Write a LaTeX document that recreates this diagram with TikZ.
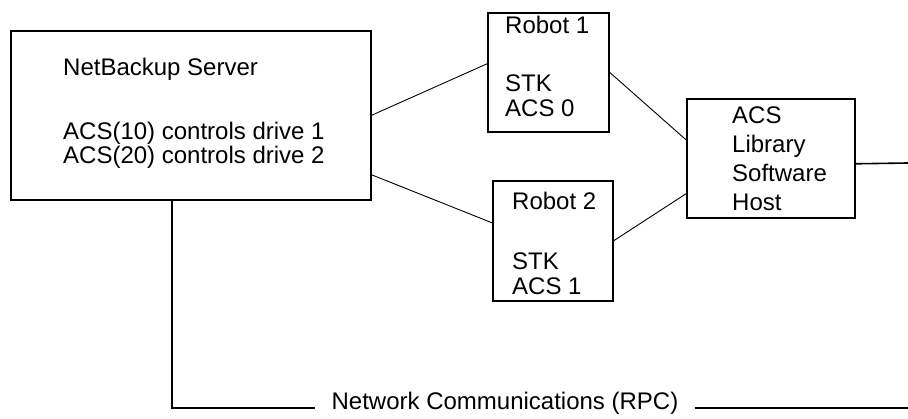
\documentclass[tikz,border=0pt]{standalone}
\usepackage{fontspec}
\setmainfont{Liberation Sans}
\tikzset{
  box/.style={draw, line width=1.6pt, anchor=north west, inner sep=0pt},
  txt/.style={align=left, anchor=north west, inner sep=0pt, font=\fontsize{24}{25}\selectfont},
  wire/.style={line width=0.9pt},
  bus/.style={line width=1.6pt}
}
\begin{document}
\begin{tikzpicture}[x=1pt,y=-1pt]
			\useasboundingbox (0,0) rectangle (908,419);
			\node[box, minimum width=360pt, minimum height=169pt] (srv) at (10,30) {};
			\node[box, minimum width=121pt, minimum height=119pt] (rob1) at (487,12) {};
			\node[box, minimum width=120pt, minimum height=120pt] (rob2) at (492,180) {};
			\node[box, minimum width=168pt, minimum height=119pt] (acs) at (686,98) {};
			
			\node[txt, font=\fontsize{24}{22}\selectfont] (srvtxt) at (63,58) {NetBackup Server\\[41pt]ACS(10) controls drive 1\\ACS(20) controls drive 2};
			\node[txt] (rob1txt) at (505,16) {Robot 1\\[33pt]STK\\ACS 0};
			\node[txt] (rob2txt) at (512,192) {Robot 2\\[35pt]STK\\ACS 1};
			\node[txt, font=\fontsize{24}{28.7}\selectfont] (acstxt) at (732,107) {ACS\\Library\\Software\\Host};
			
			\node[font=\fontsize{24}{26}\selectfont, inner xsep=16pt] (net) at (505,403) {Network Communications (RPC)};
			\coordinate (acsend) at (908,163);
			\coordinate (netend) at (908,408);
			
			\draw[wire] (srv.east) -- ([yshift=8.5pt]rob1.west);
			\draw[wire] ([yshift=-59.5pt]srv.east) -- ([yshift=18pt]rob2.west);
			\draw[wire] (rob1.east) -- ([yshift=18.5pt]acs.west);
			\draw[wire] (rob2.east) -- ([yshift=-35.5pt]acs.west);
			\draw[bus] ([yshift=-5.5pt]acs.east) -- (acsend);
			\draw[bus] ([xshift=-19pt]srv.south) |- ([yshift=-5pt]net.west);
			\draw[bus] ([yshift=-5pt]net.east) -- (netend);
		\end{tikzpicture}
\end{document}
